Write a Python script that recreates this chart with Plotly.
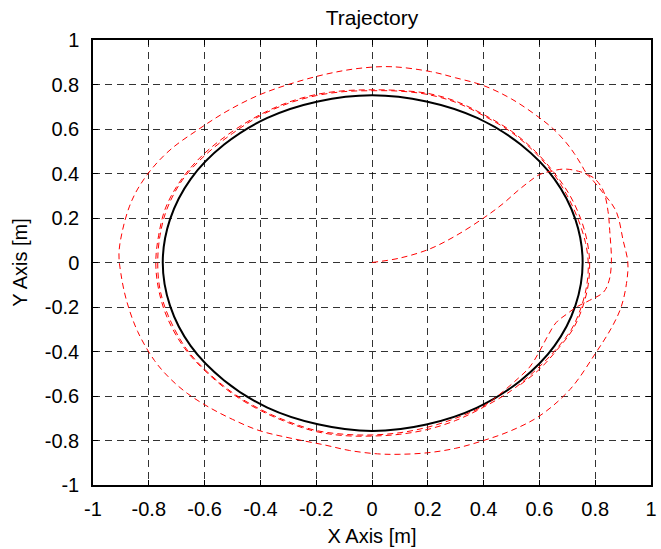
import plotly.graph_objects as go

# Reference (desired) circular trajectory, black
ref_x = [0.755, 0.729, 0.654, 0.533, 0.377, 0.195, 0.0, -0.194, -0.375, -0.530, -0.650, -0.724,
         -0.75, -0.724, -0.650, -0.530, -0.375, -0.194, 0.0, 0.195, 0.377, 0.533, 0.654, 0.729, 0.755]
ref_y = [0.0, 0.194, 0.375, 0.530, 0.650, 0.724, 0.752, 0.724, 0.650, 0.530, 0.375, 0.194,
         0.0, -0.194, -0.375, -0.530, -0.652, -0.727, -0.757, -0.728, -0.652, -0.530, -0.375, -0.194, 0.0]

# Actual trajectory, red dashed
act_x = [0.0, 0.10, 0.205, 0.30, 0.40, 0.47, 0.52, 0.565, 0.60, 0.64, 0.69, 0.74, 0.77,
         0.83, 0.875, 0.90, 0.917, 0.912, 0.893, 0.86, 0.80, 0.71, 0.60, 0.50, 0.40, 0.30, 0.20, 0.10, 0.02,
         -0.08, -0.17, -0.29, -0.405, -0.50, -0.585, -0.66, -0.725, -0.78, -0.84, -0.88, -0.90, -0.907,
         -0.895, -0.87, -0.84, -0.79, -0.72, -0.62, -0.52, -0.41, -0.30, -0.17, -0.05, 0.068, 0.21, 0.30,
         0.40, 0.50, 0.59, 0.65, 0.695, 0.725, 0.75, 0.77,
         0.80, 0.83, 0.846, 0.852, 0.858, 0.85, 0.83, 0.78, 0.733, 0.70, 0.66, 0.63, 0.60, 0.565, 0.52,
         0.45, 0.40, 0.30, 0.20, 0.10, 0.0, -0.10, -0.20, -0.30, -0.40, -0.50, -0.60, -0.67, -0.73, -0.76,
         -0.768, -0.76, -0.735, -0.68, -0.60, -0.50, -0.40, -0.30, -0.20, -0.10, 0.0, 0.10, 0.20, 0.30,
         0.40, 0.50, 0.58, 0.65, 0.70, 0.74, 0.765, 0.775, 0.77, 0.75, 0.715, 0.66, 0.59,
         0.50, 0.40, 0.30, 0.20, 0.10, 0.0, -0.10, -0.20, -0.30, -0.40, -0.50, -0.60, -0.675, -0.735, -0.765,
         -0.775, -0.765, -0.74, -0.685, -0.605, -0.505, -0.40, -0.30, -0.20, -0.10, 0.0, 0.10, 0.20, 0.30,
         0.40, 0.50, 0.585, 0.655, 0.71, 0.75, 0.772, 0.78, 0.775, 0.755, 0.72, 0.665, 0.60, 0.52]
act_y = [0.0, 0.02, 0.06, 0.12, 0.20, 0.265, 0.32, 0.365, 0.395, 0.41, 0.42, 0.41, 0.395,
         0.31, 0.23, 0.10, 0.0, -0.095, -0.20, -0.29, -0.41, -0.57, -0.69, -0.755, -0.80, -0.835, -0.855, -0.862, -0.86,
         -0.845, -0.82, -0.79, -0.755, -0.705, -0.65, -0.59, -0.52, -0.44, -0.31, -0.17, -0.05, 0.04,
         0.14, 0.25, 0.33, 0.42, 0.51, 0.60, 0.68, 0.75, 0.80, 0.845, 0.872, 0.88, 0.858, 0.83,
         0.795, 0.735, 0.66, 0.60, 0.54, 0.49, 0.44, 0.40,
         0.375, 0.32, 0.23, 0.144, 0.0, -0.08, -0.133, -0.17, -0.20, -0.23, -0.27, -0.33, -0.40, -0.47, -0.525,
         -0.60, -0.645, -0.70, -0.74, -0.765, -0.775, -0.772, -0.755, -0.715, -0.66, -0.585, -0.48, -0.38, -0.24, -0.12,
         0.0, 0.12, 0.24, 0.37, 0.48, 0.58, 0.66, 0.715, 0.75, 0.768, 0.772, 0.77, 0.755, 0.72,
         0.66, 0.585, 0.50, 0.40, 0.30, 0.19, 0.09, 0.0, -0.10, -0.20, -0.30, -0.39, -0.48,
         -0.575, -0.65, -0.71, -0.75, -0.772, -0.78, -0.778, -0.76, -0.72, -0.665, -0.59, -0.485, -0.38, -0.245, -0.12,
         0.0, 0.12, 0.245, 0.37, 0.485, 0.585, 0.665, 0.72, 0.755, 0.772, 0.776, 0.773, 0.76, 0.725,
         0.665, 0.59, 0.50, 0.40, 0.30, 0.19, 0.09, 0.0, -0.10, -0.20, -0.30, -0.39, -0.48, -0.56]

tick_vals = [-1, -0.8, -0.6, -0.4, -0.2, 0, 0.2, 0.4, 0.6, 0.8, 1]
tick_text = ["-1", "-0.8", "-0.6", "-0.4", "-0.2", "0", "0.2", "0.4", "0.6", "0.8", "1"]

FONT = "Liberation Sans, Arial, sans-serif"

fig = go.Figure()
fig.add_trace(go.Scatter(x=ref_x, y=ref_y, mode="lines", line=dict(color="black", width=2, shape="spline"),
                         showlegend=False, hoverinfo="skip"))
fig.add_trace(go.Scatter(x=act_x, y=act_y, mode="lines",
                         line=dict(color="red", width=1, dash="6px,4px", shape="spline", smoothing=1.0),
                         showlegend=False))

axis_common = dict(
    range=[-1, 1], tickvals=tick_vals, ticktext=tick_text,
    showgrid=True, gridcolor="rgba(0,0,0,0.8)", gridwidth=1, griddash="7px,5px",
    zeroline=False, showline=True, linecolor="black", linewidth=1.5, mirror="ticks",
    ticks="inside", ticklen=5, tickcolor="black", tickwidth=1,
    tickfont=dict(family=FONT, size=20, color="black"),
)

fig.update_layout(
    width=661, height=549,
    margin=dict(l=93, r=4, t=40, b=64),
    paper_bgcolor="white", plot_bgcolor="white",
    title=dict(text="Trajectory", x=0.5, xref="paper", y=1 - 18 / 549, yref="container",
               xanchor="center", yanchor="middle", font=dict(family=FONT, size=21, color="black")),
    xaxis=dict(**axis_common, ticklabelstandoff=5,
               title=dict(text="X Axis [m]", font=dict(family=FONT, size=20, color="black"), standoff=10)),
    yaxis=dict(**axis_common, ticklabelstandoff=8,
               title=dict(text="Y Axis [m]", font=dict(family=FONT, size=20, color="black"), standoff=12)),
)

fig.write_html("out.html")
